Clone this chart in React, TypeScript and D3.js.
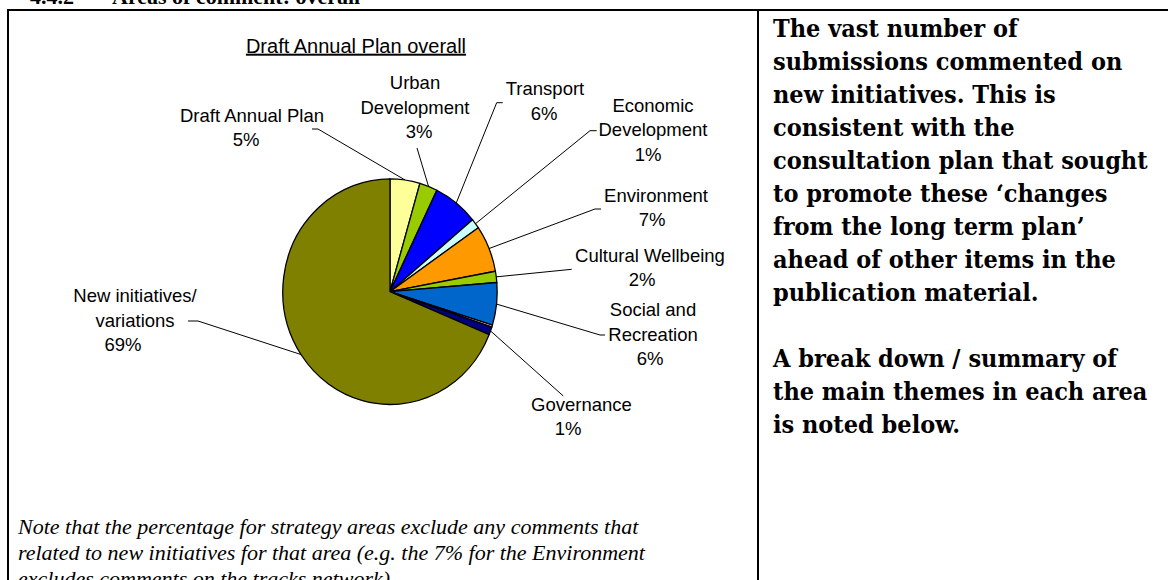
import React from "react";
import * as d3 from "d3";

// ---------- data ----------
const categories = [
  "Draft Annual Plan",
  "Urban Development",
  "Transport",
  "Economic Development",
  "Environment",
  "Cultural Wellbeing",
  "Social and Recreation",
  "Other",
  "Governance",
  "New initiatives/ variations",
];
const values = [4.5, 2.7, 6.8, 1.4, 6.7, 1.6, 6.1, 0.3, 1.1, 68.8];
const percentLabels = ["5%", "3%", "6%", "1%", "7%", "2%", "6%", "", "1%", "69%"];
const labelNames = [
  ["Draft Annual Plan"],
  ["Urban", "Development"],
  ["Transport"],
  ["Economic", "Development"],
  ["Environment"],
  ["Cultural Wellbeing"],
  ["Social and", "Recreation"],
  [],
  ["Governance"],
  ["New initiatives/", "variations"],
];
const sliceColors = [
  "#FFFF99",
  "#99CC00",
  "#0000FF",
  "#CCFFFF",
  "#FF9900",
  "#99CC00",
  "#0066CC",
  "#E6E6FF",
  "#000080",
  "#808000",
];
const chartTitle = "Draft Annual Plan overall";
const headingNumber = "4.4.2";
const headingText = "Areas of comment: overall";
const rightParagraphs = [
  [
    "The vast number of",
    "submissions commented on",
    "new initiatives.  This is",
    "consistent with the",
    "consultation plan that sought",
    "to promote these \u2018changes",
    "from the long term plan\u2019",
    "ahead of other items in the",
    "publication material.",
  ],
  ["A break down / summary of", "the main themes in each area", "is noted below."],
];
const noteLines = [
  "Note that the percentage for strategy areas exclude any comments that",
  "related to new initiatives for that area (e.g. the 7% for the Environment",
  "excludes comments on the tracks network).",
];

// ---------- layout ----------
const W = 1168;
const H = 580;
const CX = 390;
const CY = 291.7;
const RX = 107.2;
const RY = 112.8;
const LABEL_FONT = "'Liberation Sans', Arial, sans-serif";
const LABEL_SIZE = 18.5;
const LINE_H = 24.5;
const RIGHT_X = 773;
const RIGHT_SCALE = 0.9;

type Lay = { x: number; px: number; y: number; lead: [number, number][] } | null;
const labelLayout: Lay[] = [
  { x: 252, px: 246, y: 121.7, lead: [[312, 129], [318, 129]] },
  { x: 415, px: 419, y: 89.3, lead: [[417, 148]] },
  { x: 545, px: 544, y: 95, lead: [[502.7, 102.7], [496.7, 102.7]] },
  { x: 653, px: 648, y: 111.7, lead: [[596.7, 130.7], [590, 130.7]] },
  { x: 656, px: 652, y: 201.7, lead: [[601, 209], [595, 209]] },
  { x: 650, px: 642, y: 261.7, lead: [[571.7, 269.3]] },
  { x: 653, px: 650, y: 316, lead: [[605, 335], [600, 335]] },
  null,
  { x: 581.5, px: 568, y: 410.7, lead: [[563.3, 396]] },
  { x: 135, px: 123, y: 302.3, lead: [[188, 321], [198, 321]] },
];

export default function App() {
  const pie = d3
    .pie<number>()
    .sort(null)
    .value((d) => d)
    .startAngle(0)
    .endAngle(2 * Math.PI);
  const arcs = pie(values);
  const arc = d3.arc<d3.PieArcDatum<number>>().innerRadius(0).outerRadius(RX);
  const line = d3.line();

  const rightLines: { t: string; row: number }[] = [];
  rightParagraphs.forEach((p, pi) => {
    const offset = pi === 0 ? 0 : rightParagraphs[0].length + 1;
    p.forEach((t, i) => rightLines.push({ t, row: offset + i }));
  });

  return (
    <div style={{ position: "fixed", left: 0, top: 0, width: W, height: H, background: "#fff" }}>
      <svg width={W} height={H} style={{ display: "block" }}>
        <rect width={W} height={H} fill="#fff" />
        {/* heading, cut at top */}
        <g fontFamily="'Liberation Serif', 'Times New Roman', serif" fontWeight="bold" fontSize={22} fill="#000">
          <text x={30} y={4}>{headingNumber}</text>
          <text x={112} y={4}>{headingText}</text>
        </g>
        {/* frame */}
        <g stroke="#000" strokeWidth={2} fill="none">
          <line x1={7} y1={10} x2={W} y2={10} />
          <line x1={8} y1={9} x2={8} y2={H} />
          <line x1={758} y1={9} x2={758} y2={H} />
        </g>
        {/* title */}
        <text
          x={356}
          y={52.7}
          textAnchor="middle"
          fontFamily={LABEL_FONT}
          fontSize={20}
          textDecoration="underline"
          fill="#000"
        >
          {chartTitle}
        </text>
        {/* pie */}
        <g transform={`translate(${CX},${CY}) scale(1,${RY / RX})`}>
          {arcs.map((a, i) => (
            <path
              key={categories[i]}
              d={arc(a) || ""}
              fill={sliceColors[i]}
              stroke="#000"
              strokeWidth={1.3}
              vectorEffect="non-scaling-stroke"
              strokeLinejoin="round"
            />
          ))}
        </g>
        {/* leader lines */}
        <g stroke="#000" strokeWidth={1} fill="none">
          {arcs.map((a, i) => {
            const lay = labelLayout[i];
            if (!lay) return null;
            const mid = (a.startAngle + a.endAngle) / 2;
            const end: [number, number] = [CX + RX * Math.sin(mid), CY - RY * Math.cos(mid)];
            return <path key={categories[i]} d={line([...lay.lead, end]) || ""} />;
          })}
        </g>
        {/* labels */}
        <g fontFamily={LABEL_FONT} fontSize={LABEL_SIZE} fill="#000" textAnchor="middle">
          {labelNames.map((names, i) => {
            const lay = labelLayout[i];
            if (!lay) return null;
            return (
              <g key={categories[i]}>
                {names.map((n, j) => (
                  <text key={j} x={lay.x} y={lay.y + j * LINE_H}>
                    {n}
                  </text>
                ))}
                <text x={lay.px} y={lay.y + names.length * LINE_H}>
                  {percentLabels[i]}
                </text>
              </g>
            );
          })}
        </g>
        {/* right text */}
        <g
          transform={`translate(${RIGHT_X},0) scale(${RIGHT_SCALE},1)`}
          fontFamily="'DejaVu Serif', serif"
          fontWeight="bold"
          fontSize={25}
          fill="#000"
        >
          {rightLines.map((l, i) => (
            <text key={i} x={0} y={37 + l.row * 33}>
              {l.t}
            </text>
          ))}
        </g>
        {/* note */}
        <g fontFamily="'Liberation Serif', 'Times New Roman', serif" fontStyle="italic" fontSize={22} fill="#000">
          {noteLines.map((t, i) => (
            <text key={i} x={18} y={534 + i * 26}>
              {t}
            </text>
          ))}
        </g>
      </svg>
    </div>
  );
}
